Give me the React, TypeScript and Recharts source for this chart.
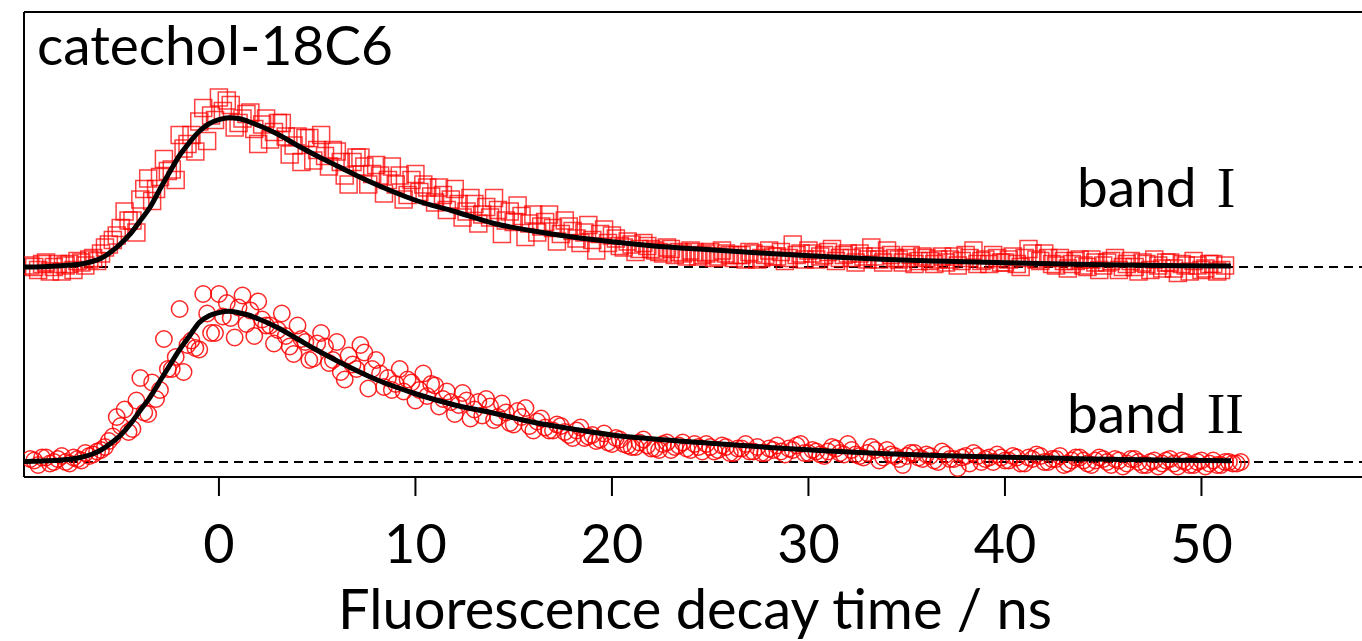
import React from 'react';
import { ComposedChart, Scatter, XAxis, YAxis, ReferenceLine, Customized } from 'recharts';

// time bins (ns), shared by both bands
const times = [
  -9.6, -9.2, -8.8, -8.4, -8.0, -7.6, -7.2, -6.8, -6.4, -6.0,
  -5.6, -5.2, -4.8, -4.4, -4.0, -3.6, -3.2, -2.8, -2.4, -2.0,
  -1.6, -1.2, -0.8, -0.4, 0.0, 0.4, 0.8, 1.2, 1.6, 2.0,
  2.4, 2.8, 3.2, 3.6, 4.0, 4.4, 4.8, 5.2, 5.6, 6.0,
  6.4, 6.8, 7.2, 7.6, 8.0, 8.4, 8.8, 9.2, 9.6, 10.0,
  10.4, 10.8, 11.2, 11.6, 12.0, 12.4, 12.8, 13.2, 13.6, 14.0,
  14.4, 14.8, 15.2, 15.6, 16.0, 16.4, 16.8, 17.2, 17.6, 18.0,
  18.4, 18.8, 19.2, 19.6, 20.0, 20.4, 20.8, 21.2, 21.6, 22.0,
  22.4, 22.8, 23.2, 23.6, 24.0, 24.4, 24.8, 25.2, 25.6, 26.0,
  26.4, 26.8, 27.2, 27.6, 28.0, 28.4, 28.8, 29.2, 29.6, 30.0,
  30.4, 30.8, 31.2, 31.6, 32.0, 32.4, 32.8, 33.2, 33.6, 34.0,
  34.4, 34.8, 35.2, 35.6, 36.0, 36.4, 36.8, 37.2, 37.6, 38.0,
  38.4, 38.8, 39.2, 39.6, 40.0, 40.4, 40.8, 41.2, 41.6, 42.0,
  42.4, 42.8, 43.2, 43.6, 44.0, 44.4, 44.8, 45.2, 45.6, 46.0,
  46.4, 46.8, 47.2, 47.6, 48.0, 48.4, 48.8, 49.2, 49.6, 50.0,
  50.4, 50.8, 51.2, 51.6, 52.0,
];

// the in-between bins
const midTimes = [
  -9.4, -9.0, -8.6, -8.2, -7.8, -7.4, -7.0, -6.6, -6.2, -5.8,
  -5.4, -5.0, -4.6, -4.2, -3.8, -3.4, -3.0, -2.6, -2.2, -1.8,
  -1.4, -1.0, -0.6, -0.2, 0.2, 0.6, 1.0, 1.4, 1.8, 2.2,
  2.6, 3.0, 3.4, 3.8, 4.2, 4.6, 5.0, 5.4, 5.8, 6.2,
  6.6, 7.0, 7.4, 7.8, 8.2, 8.6, 9.0, 9.4, 9.8, 10.2,
  10.6, 11.0, 11.4, 11.8, 12.2, 12.6, 13.0, 13.4, 13.8, 14.2,
  14.6, 15.0, 15.4, 15.8, 16.2, 16.6, 17.0, 17.4, 17.8, 18.2,
  18.6, 19.0, 19.4, 19.8, 20.2, 20.6, 21.0, 21.4, 21.8, 22.2,
  22.6, 23.0, 23.4, 23.8, 24.2, 24.6, 25.0, 25.4, 25.8, 26.2,
  26.6, 27.0, 27.4, 27.8, 28.2, 28.6, 29.0, 29.4, 29.8, 30.2,
  30.6, 31.0, 31.4, 31.8, 32.2, 32.6, 33.0, 33.4, 33.8, 34.2,
  34.6, 35.0, 35.4, 35.8, 36.2, 36.6, 37.0, 37.4, 37.8, 38.2,
  38.6, 39.0, 39.4, 39.8, 40.2, 40.6, 41.0, 41.4, 41.8, 42.2,
  42.6, 43.0, 43.4, 43.8, 44.2, 44.6, 45.0, 45.4, 45.8, 46.2,
  46.6, 47.0, 47.4, 47.8, 48.2, 48.6, 49.0, 49.4, 49.8, 50.2,
  50.6, 51.0, 51.4, 51.8,
];

// normalised intensity, band I (squares)
const bandI = [
  0.01, -0.02, 0.03, 0.0, -0.03, 0.02, 0.04, 0.01, 0.06, 0.09,
  0.15, 0.21, 0.37, 0.31, 0.45, 0.59, 0.52, 0.72, 0.65, 0.88,
  0.82, 0.77, 1.06, 1.01, 1.13, 1.11, 0.93, 0.99, 1.03, 0.82,
  0.99, 0.90, 0.96, 0.75, 0.87, 0.86, 0.71, 0.88, 0.67, 0.77,
  0.61, 0.70, 0.73, 0.55, 0.68, 0.49, 0.67, 0.61, 0.48, 0.62,
  0.55, 0.47, 0.53, 0.38, 0.52, 0.33, 0.46, 0.29, 0.40, 0.46,
  0.22, 0.37, 0.41, 0.20, 0.35, 0.27, 0.35, 0.17, 0.31, 0.24,
  0.16, 0.28, 0.11, 0.25, 0.21, 0.14, 0.17, 0.10, 0.16, 0.12,
  0.10, 0.13, 0.08, 0.09, 0.11, 0.07, 0.09, 0.06, 0.11, 0.08,
  0.08, 0.05, 0.09, 0.06, 0.11, 0.07, 0.04, 0.15, 0.09, 0.11,
  0.05, 0.08, 0.12, 0.06, 0.09, 0.03, 0.07, 0.13, 0.05, 0.11,
  0.06, 0.03, 0.08, 0.04, 0.06, 0.02, 0.07, 0.05, 0.01, 0.08,
  0.11, 0.04, 0.02, 0.06, 0.03, 0.07, 0.0, 0.12, 0.05, 0.09,
  0.02, 0.06, -0.01, 0.04, 0.01, 0.05, -0.02, 0.03, 0.06, 0.0,
  0.04, -0.03, 0.02, 0.05, -0.01, 0.03, -0.04, 0.01, 0.04, -0.02,
  0.02, -0.03, 0.01,
];
const bandIMid = [
  0.0, 0.02, -0.03, 0.02, 0.01, -0.02, 0.03, 0.05, 0.04, 0.13,
  0.18, 0.26, 0.31, 0.23, 0.52, 0.44, 0.60, 0.64, 0.58, 0.79,
  0.88, 0.97, 0.84, 0.98, 1.04, 1.08, 0.96, 1.02, 0.92, 0.95,
  0.85, 0.96, 0.87, 0.81, 0.70, 0.86, 0.78, 0.74, 0.78, 0.70,
  0.55, 0.73, 0.67, 0.62, 0.61, 0.58, 0.55, 0.45, 0.58, 0.50,
  0.53, 0.43, 0.48, 0.45, 0.42, 0.37, 0.42, 0.35, 0.33, 0.38,
  0.31, 0.30, 0.34, 0.29, 0.23, 0.30, 0.26, 0.22, 0.27, 0.19,
  0.23, 0.18, 0.22, 0.16, 0.19, 0.13, 0.15, 0.12, 0.14, 0.11,
  0.09, 0.12, 0.10, 0.07, 0.10, 0.08, 0.10, 0.07, 0.09, 0.06,
  0.08, 0.10, 0.05, 0.08, 0.07, 0.10, 0.06, 0.08, 0.05, 0.09,
  0.07, 0.10, 0.04, 0.08, 0.06, 0.09, 0.05, 0.07, 0.03, 0.08,
  0.05, 0.06, 0.02, 0.07, 0.04, 0.05, 0.03, 0.07, 0.04, 0.06,
  0.02, 0.05, 0.08, 0.03, 0.05, 0.02, 0.06, 0.09, 0.04, 0.06,
  0.01, 0.04, 0.02, 0.05, 0.0, 0.03, 0.01, 0.04, -0.02, 0.02,
  0.0, 0.03, -0.02, 0.01, 0.03, -0.01, 0.02, -0.03, 0.01, -0.01,
  0.02, -0.02,
];

// normalised intensity, band II (circles)
const bandII = [
  0.02, -0.02, 0.03, 0.0, 0.04, -0.01, 0.02, 0.06, 0.05, 0.08,
  0.14, 0.30, 0.35, 0.22, 0.56, 0.32, 0.42, 0.82, 0.62, 1.02,
  0.78, 0.76, 1.12, 0.86, 1.12, 1.06, 0.83, 1.11, 1.01, 1.07,
  0.91, 0.79, 0.99, 0.77, 0.91, 0.80, 0.69, 0.86, 0.66, 0.80,
  0.55, 0.65, 0.78, 0.49, 0.68, 0.50, 0.48, 0.62, 0.55, 0.41,
  0.59, 0.52, 0.37, 0.47, 0.32, 0.46, 0.29, 0.40, 0.42, 0.28,
  0.39, 0.26, 0.34, 0.36, 0.21, 0.29, 0.21, 0.25, 0.20, 0.16,
  0.23, 0.17, 0.14, 0.19, 0.12, 0.15, 0.11, 0.10, 0.15, 0.09,
  0.08, 0.13, 0.10, 0.13, 0.08, 0.10, 0.12, 0.07, 0.11, 0.06,
  0.09, 0.12, 0.07, 0.06, 0.09, 0.11, 0.05, 0.08, 0.12, 0.06,
  0.07, 0.04, 0.10, 0.06, 0.12, 0.05, 0.03, 0.10, 0.01, 0.08,
  0.04, -0.02, 0.06, 0.03, 0.05, 0.01, 0.07, 0.02, -0.04, 0.04,
  0.06, 0.0, 0.03, 0.05, 0.01, 0.04, -0.01, 0.03, 0.05, 0.0,
  0.02, 0.04, -0.01, 0.03, 0.01, -0.02, 0.03, 0.0, 0.02, -0.03,
  0.02, 0.0, -0.02, 0.01, -0.01, 0.02, -0.03, 0.0, -0.02, 0.01,
  -0.01, -0.02, 0.0, -0.01, 0.0,
];
const bandIIMid = [
  0.01, 0.03, -0.01, 0.02, 0.0, 0.03, 0.01, 0.04, 0.07, 0.10,
  0.17, 0.24, 0.20, 0.41, 0.33, 0.53, 0.48, 0.62, 0.70, 0.60,
  0.81, 0.75, 0.99, 0.86, 0.97, 0.96, 1.03, 0.92, 0.84, 0.95,
  0.91, 0.88, 0.84, 0.72, 0.82, 0.68, 0.79, 0.77, 0.68, 0.60,
  0.71, 0.62, 0.73, 0.62, 0.59, 0.56, 0.52, 0.47, 0.53, 0.48,
  0.44, 0.51, 0.42, 0.40, 0.38, 0.41, 0.35, 0.31, 0.37, 0.30,
  0.33, 0.25, 0.30, 0.24, 0.27, 0.23, 0.21, 0.24, 0.18, 0.21,
  0.16, 0.18, 0.15, 0.13, 0.16, 0.12, 0.10, 0.13, 0.11, 0.09,
  0.12, 0.08, 0.11, 0.09, 0.12, 0.07, 0.10, 0.08, 0.10, 0.06,
  0.09, 0.07, 0.10, 0.06, 0.08, 0.07, 0.09, 0.11, 0.06, 0.08,
  0.05, 0.07, 0.09, 0.05, 0.08, 0.04, 0.06, 0.08, 0.03, 0.05,
  0.02, 0.04, 0.06, 0.02, 0.04, 0.0, 0.05, 0.02, 0.03, -0.01,
  0.04, 0.02, 0.0, 0.03, 0.01, 0.03, -0.01, 0.02, 0.04, 0.0,
  0.02, -0.02, 0.01, 0.03, -0.01, 0.01, 0.02, -0.02, 0.01, -0.01,
  0.02, -0.02, 0.0, -0.03, 0.01, -0.01, 0.01, -0.02, 0.0, -0.03,
  0.01, -0.02, 0.0, -0.01,
];

// fitted curves
const fitTimes = [
  -9.9, -9, -8, -7.5, -7, -6.5, -6, -5.5, -5, -4.5,
  -4, -3.5, -3, -2.5, -2, -1.5, -1, -0.5, 0, 0.5,
  1, 1.5, 2, 3, 4, 5, 6, 7, 8, 9,
  10, 12, 14, 16, 18, 20, 22, 25, 28, 31,
  34, 37, 40, 43, 46, 49, 51.5,
];
const fitI = [
  0.0, 0.002, 0.008, 0.013, 0.02, 0.035, 0.058, 0.1, 0.155, 0.222,
  0.31, 0.4, 0.52, 0.635, 0.745, 0.83, 0.905, 0.955, 0.982, 0.995,
  0.99, 0.97, 0.945, 0.885, 0.81, 0.74, 0.675, 0.61, 0.55, 0.495,
  0.445, 0.37, 0.29, 0.24, 0.2, 0.168, 0.142, 0.115, 0.09, 0.068,
  0.05, 0.038, 0.028, 0.02, 0.014, 0.009, 0.006,
];
const fitII = [
  0.004, 0.007, 0.013, 0.02, 0.032, 0.05, 0.08, 0.125, 0.18, 0.255,
  0.345, 0.433, 0.54, 0.645, 0.75, 0.84, 0.93, 0.975, 0.996, 1.005,
  0.995, 0.98, 0.955, 0.895, 0.82, 0.745, 0.675, 0.61, 0.55, 0.5,
  0.455, 0.38, 0.325, 0.265, 0.22, 0.18, 0.155, 0.125, 0.097, 0.073,
  0.055, 0.042, 0.032, 0.024, 0.017, 0.012, 0.008,
];

const xTicks = [0, 10, 20, 30, 40, 50];

// vertical stacking of the two traces
const OFFSET_I = 1.4;
const OFFSET_II = 0.1;

const bandIPoints = [
  ...bandI.map((v, i) => ({ t: times[i], y: v + OFFSET_I })),
  ...bandIMid.map((v, i) => ({ t: midTimes[i], y: v + OFFSET_I })),
];
const bandIIPoints = [
  ...bandII.map((v, i) => ({ t: times[i], y: v + OFFSET_II })),
  ...bandIIMid.map((v, i) => ({ t: midTimes[i], y: v + OFFSET_II })),
];
const fitIPoints = fitI.map((v, i) => ({ t: fitTimes[i], y: v + OFFSET_I }));
const fitIIPoints = fitII.map((v, i) => ({ t: fitTimes[i], y: v + OFFSET_II }));

const SANS = 'Lato, "Open Sans", sans-serif';
const SERIF = '"Liberation Serif", "DejaVu Serif", serif';

const Square = (p: any) => (
  <rect x={p.cx - 8.5} y={p.cy - 8.5} width={17} height={17} fill="none"
    stroke="#ff0000" strokeOpacity={0.75} strokeWidth={1.5} />
);
const Circle = (p: any) => (
  <circle cx={p.cx} cy={p.cy} r={8.2} fill="none"
    stroke="#ff0000" strokeOpacity={0.85} strokeWidth={1.5} />
);
const NoDot = () => <g />;

const TimeTick = (p: any) => (
  <text x={p.x} y={p.y + 65} textAnchor="middle" fontFamily={SANS} fontSize={54} fill="#000">
    {p.payload.value}
  </text>
);

const Labels = () => (
  <g fill="#000">
    <text x={37} y={65} fontFamily={SANS} fontSize={55}>catechol-18C6</text>
    <text x={1077} y={207} fontFamily={SANS} fontSize={55}>
      band <tspan fontFamily={SERIF} fontSize={56} dx={6}>I</tspan>
    </text>
    <text x={1067} y={433} fontFamily={SANS} fontSize={55}>
      band <tspan fontFamily={SERIF} fontSize={56} dx={6}>II</tspan>
    </text>
    <text x={695} y={629} textAnchor="middle" fontFamily={SANS} fontSize={56}>
      Fluorescence decay time / ns
    </text>
  </g>
);

export default function App() {
  return (
    <div style={{ position: 'absolute', left: 0, top: 0, background: '#fff' }}>
      <ComposedChart width={1362} height={641} margin={{ top: 12, right: 0, bottom: 0, left: 0 }}>
        <XAxis type="number" dataKey="t" domain={[-9.92, 58.17]} ticks={xTicks} allowDataOverflow
          height={164} tickSize={19} tick={<TimeTick />}
          axisLine={{ stroke: '#000', strokeWidth: 2 }} tickLine={{ stroke: '#000', strokeWidth: 2 }} />
        <YAxis type="number" dataKey="y" domain={[0, 3.1]} ticks={[OFFSET_II, OFFSET_I]} allowDataOverflow
          width={24} tickSize={16} tick={false}
          axisLine={{ stroke: '#000', strokeWidth: 2 }} tickLine={{ stroke: '#000', strokeWidth: 2 }} />
        <ReferenceLine y={3.1} stroke="#000" strokeWidth={2} />
        <ReferenceLine y={OFFSET_I} stroke="#000" strokeWidth={2} strokeDasharray="9 6" />
        <ReferenceLine y={OFFSET_II} stroke="#000" strokeWidth={2} strokeDasharray="9 6" />
        <Scatter data={bandIPoints} dataKey="y" shape={<Square />} isAnimationActive={false} />
        <Scatter data={bandIIPoints} dataKey="y" shape={<Circle />} isAnimationActive={false} />
        <Scatter data={fitIPoints} dataKey="y" shape={<NoDot />} line={{ stroke: '#000', strokeWidth: 5 }}
          lineJointType="monotoneX" isAnimationActive={false} />
        <Scatter data={fitIIPoints} dataKey="y" shape={<NoDot />} line={{ stroke: '#000', strokeWidth: 5 }}
          lineJointType="monotoneX" isAnimationActive={false} />
        <Customized component={Labels} />
      </ComposedChart>
    </div>
  );
}
